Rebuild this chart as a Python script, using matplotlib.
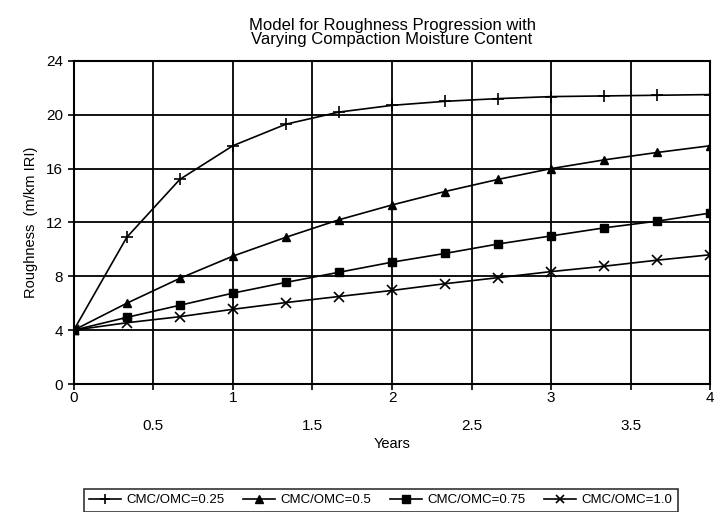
import matplotlib
matplotlib.use("Agg")
import matplotlib.pyplot as plt

plt.rcParams['font.family'] = ['Liberation Sans', 'DejaVu Sans']

# years (points every 4 months)
years = [0, 1/3, 2/3, 1, 4/3, 5/3, 2, 7/3, 8/3, 3, 10/3, 11/3, 4]

# roughness (m/km IRI)
cmc_025 = [4, 10.9, 15.2, 17.7, 19.3, 20.2, 20.7, 21.0, 21.2, 21.35, 21.4, 21.45, 21.5]
cmc_050 = [4, 6.0, 7.85, 9.5, 10.9, 12.2, 13.3, 14.3, 15.2, 16.0, 16.65, 17.2, 17.7]
cmc_075 = [4, 4.95, 5.85, 6.75, 7.55, 8.3, 9.05, 9.7, 10.4, 11.0, 11.6, 12.1, 12.7]
cmc_100 = [4, 4.55, 5.0, 5.55, 6.05, 6.5, 6.95, 7.45, 7.9, 8.35, 8.75, 9.2, 9.6]

series_labels = ['CMC/OMC=0.25', 'CMC/OMC=0.5', 'CMC/OMC=0.75', 'CMC/OMC=1.0']
x_ticks = [0, 0.5, 1, 1.5, 2, 2.5, 3, 3.5, 4]
x_tick_labels = ['0', '0.5', '1', '1.5', '2', '2.5', '3', '3.5', '4']
y_ticks = [0, 4, 8, 12, 16, 20, 24]

fig = plt.figure(figsize=(7.16, 5.12), dpi=100)
ax = fig.add_axes([0.103, 0.25, 0.889, 0.631])

ax.plot(years, cmc_025, color='black', lw=1.2, marker='+', ms=8, mew=1.2,
        label=series_labels[0], zorder=3)
ax.plot(years, cmc_050, color='black', lw=1.2, marker='^', ms=6,
        label=series_labels[1], zorder=3)
ax.plot(years, cmc_075, color='black', lw=1.2, marker='s', ms=6,
        label=series_labels[2], zorder=3)
ax.plot(years, cmc_100, color='black', lw=1.2, marker='x', ms=7, mew=1.2,
        label=series_labels[3], zorder=3)

ax.set_xlim(0, 4)
ax.set_ylim(0, 24)
ax.set_yticks(y_ticks)
ax.set_xticks(x_ticks)
ax.set_xticklabels(x_tick_labels)
ax.tick_params(direction='out', length=4, width=1.2, labelsize=11, color='black')

# staggered x labels: halves on a second row
for tick in ax.xaxis.get_major_ticks()[1::2]:
    tick.set_pad(21)
for tick in ax.xaxis.get_major_ticks()[0::2]:
    tick.set_pad(1)

ax.grid(True, color='black', lw=1.3)
for sp in ax.spines.values():
    sp.set_linewidth(1.5)

ax.set_xlabel('Years', fontsize=10.5, labelpad=3)
ax.set_ylabel('Roughness  (m/km IRI)', fontsize=10.5, labelpad=6)
ax.set_title('Model for Roughness Progression with\nVarying Compaction Moisture Content',
             fontsize=12, linespacing=0.95, pad=12)

leg = fig.legend(loc='upper left', bbox_to_anchor=(0.108, 0.058), ncol=4,
                 fontsize=9.5, frameon=True, fancybox=False, edgecolor='black',
                 handlelength=2.4, handletextpad=0.4, columnspacing=1.45,
                 borderpad=0.4, markerscale=0.85)
leg.get_frame().set_linewidth(1.2)

fig.savefig('out.png', dpi=100)
